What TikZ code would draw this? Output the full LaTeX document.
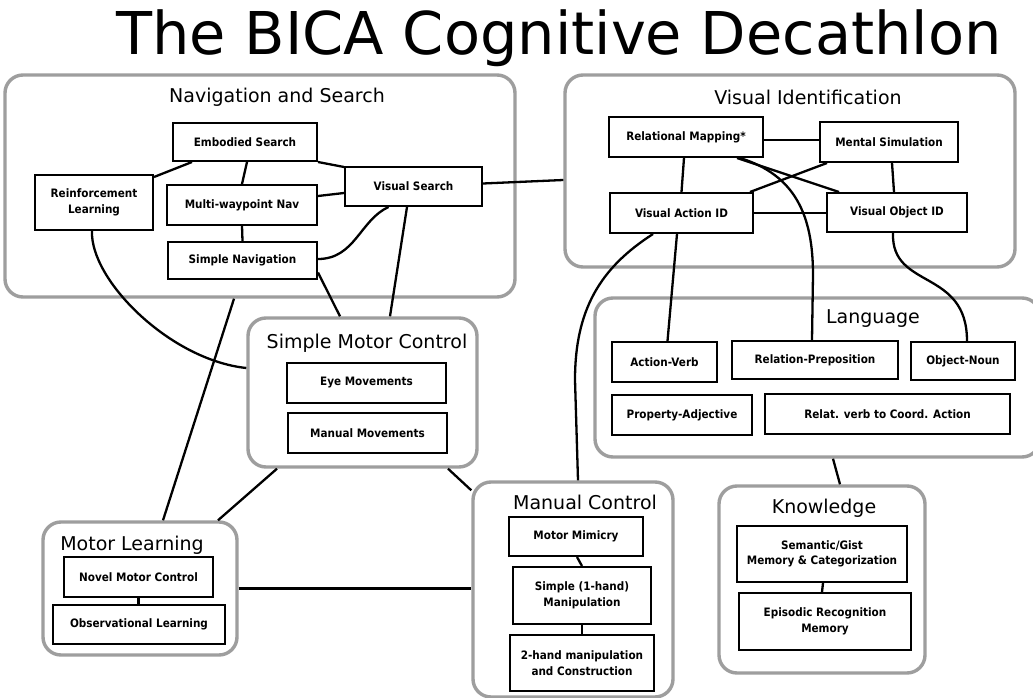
\documentclass[tikz,border=0pt]{standalone}
\usepackage{fontspec}
\setmainfont{DejaVu Sans}
\newfontfamily\boxfont[FakeStretch=0.9]{DejaVu Sans}
\tikzset{
  box/.style={draw, line width=2pt, inner sep=0pt, align=center,
    font=\boxfont\fontsize{11.6}{15.5}\selectfont\bfseries},
  grp/.style={draw=black!38, line width=3.4pt, rounded corners=18pt, inner sep=0pt},
  gtitle/.style={font=\fontsize{19}{22}\selectfont, inner sep=0pt},
  link/.style={line width=2.3pt},
}
\begin{document}
\begin{tikzpicture}[x=1pt,y=-1pt]
\fill[white] (0,0) rectangle (1033,698);
\useasboundingbox (0,0) rectangle (1033,698);
\node[font=\fontsize{59}{64}\selectfont, inner sep=0pt, anchor=base] (title) at (559,55) {The BICA Cognitive Decathlon};

% groups
\node[grp, minimum width=510, minimum height=222] (gnav) at (260,186) {};
\node[grp, minimum width=450, minimum height=192] (gvi) at (790,171) {};
\node[grp, minimum width=445, minimum height=159] (glang) at (817.5,377.5) {};
\node[grp, minimum width=229, minimum height=149] (gsmc) at (362.5,392.5) {};
\node[grp, minimum width=194, minimum height=133] (gml) at (140,588.5) {};
\node[grp, minimum width=200, minimum height=215] (gmc) at (573,589.5) {};
\node[grp, minimum width=206, minimum height=187] (gkn) at (822,579.5) {};

\node[gtitle] (tnav) at (277,97) {Navigation and Search};
\node[gtitle] (tvi) at (808,97) {Visual Identification};
\node[gtitle] (tlang) at (873,319) {Language};
\node[gtitle] (tsmc) at (367,343) {Simple Motor Control};
\node[gtitle] (tml) at (132,545) {Motor Learning};
\node[gtitle] (tmc) at (585,502) {Manual Control};
\node[gtitle] (tkn) at (824,508) {Knowledge};

% boxes
\node[box, minimum width=144, minimum height=38] (emb) at (245,142) {Embodied Search};
\node[box, minimum width=118, minimum height=55] (rl) at (94,202.5) {Reinforcement\\Learning};
\node[box, minimum width=150, minimum height=40] (mw) at (242,205) {Multi-waypoint Nav};
\node[box, minimum width=137, minimum height=39] (vs) at (413.5,186.5) {Visual Search};
\node[box, minimum width=149, minimum height=37] (sn) at (242.5,260.5) {Simple Navigation};

\node[box, minimum width=154, minimum height=40] (rm) at (686,137) {Relational Mapping*};
\node[box, minimum width=138, minimum height=40] (ms) at (889,142) {Mental Simulation};
\node[box, minimum width=143, minimum height=40] (va) at (681.5,213) {Visual Action ID};
\node[box, minimum width=140, minimum height=39] (vo) at (897,212.5) {Visual Object ID};

\node[box, minimum width=105, minimum height=40] (av) at (664.5,362) {Action-Verb};
\node[box, minimum width=166, minimum height=38] (rp) at (815,360) {Relation-Preposition};
\node[box, minimum width=104, minimum height=38] (on) at (963,361) {Object-Noun};
\node[box, minimum width=140, minimum height=40] (pa) at (682,415) {Property-Adjective};
\node[box, minimum width=245, minimum height=40] (rv) at (887.5,414) {Relat. verb to Coord. Action};

\node[box, minimum width=159, minimum height=40] (eye) at (366.5,383) {Eye Movements};
\node[box, minimum width=159, minimum height=40] (man) at (367.5,433) {Manual Movements};

\node[box, minimum width=149, minimum height=40] (nmc) at (138.5,577) {Novel Motor Control};
\node[box, minimum width=172, minimum height=39] (obs) at (139,624.5) {Observational Learning};

\node[box, minimum width=134, minimum height=39] (mm) at (576,536.5) {Motor Mimicry};
\node[box, minimum width=138, minimum height=57] (smp) at (582,595.5) {Simple (1-hand)\\Manipulation};
\node[box, minimum width=144, minimum height=56] (two) at (582,663) {2-hand manipulation\\and Construction};

\node[box, minimum width=170, minimum height=56] (sem) at (822,554) {Semantic/Gist\\Memory \& Categorization};
\node[box, minimum width=172, minimum height=57] (epi) at (825,621.5) {Episodic Recognition\\Memory};

% connectors: navigation
\draw[link] ([xshift=20pt]emb.south west) -- ([yshift=-3pt]rl.north east);
\draw[link] ([xshift=2pt]emb.south) -- (mw.north);
\draw[link] (emb.south east) -- ([yshift=-1pt]vs.north west);
\draw[link] ([yshift=9pt]mw.east) -- ([yshift=-6.5pt]vs.west);
\draw[link] (mw.south) -- (sn.north);
\draw[link] ([yshift=1.5pt]sn.east) .. controls (355,259) and (360,220) .. ([xshift=-25pt]vs.south);
\draw[link] ([xshift=-6.5pt]vs.south) -- ([xshift=27.5pt]gsmc.north);
\draw[link] ([yshift=-12pt]sn.east) -- ([xshift=-22.5pt]gsmc.north);
\draw[link] ([xshift=-2pt]rl.south) .. controls (90,280) and (170,360) .. ([yshift=24.5pt]gsmc.west);
\draw[link] ([xshift=-26pt]gnav.south) -- ([xshift=23pt]gml.north);
\draw[link] ([xshift=-85.5pt]gsmc.south) -- ([xshift=78pt]gml.north);
\draw[link] ([xshift=85.5pt]gsmc.south) -- ([yshift=-10pt]gmc.north west);
\draw[link] (gml.east) -- (gml.east -| gmc.west);
\draw[link] ([yshift=3pt]vs.east) -- ([yshift=-9pt]gvi.west);

% visual identification
\draw[link] ([yshift=-3pt]rm.east) -- ([yshift=2pt]ms.west);
\draw[link] ([xshift=-2pt]rm.south) -- (va.north);
\draw[link] ([xshift=-62pt]ms.south) -- ([xshift=-4pt]va.north east);
\draw[link] ([xshift=51pt]rm.south) -- ([xshift=13pt]vo.north west);
\draw[link] ([xshift=3pt]ms.south) -- ([xshift=-3pt]vo.north);
\draw[link] (va.east) -- (va.east -| vo.west);
\draw[link] ([xshift=54pt]rm.south) .. controls (795,175) and (813,215) .. (813,275) -- ([xshift=-3pt]rp.north);
\draw[link] ([xshift=-4.5pt]va.south) -- ([xshift=3pt]av.north);
\draw[link] ([xshift=-28.5pt]va.south) .. controls (600,268) and (575,310) .. (575,380) -- ([xshift=5pt]gmc.north);
\draw[link] ([xshift=-4pt]vo.south) .. controls (891,290) and (967,268) .. ([xshift=4pt]on.north);
\draw[link] ([xshift=15.5pt]glang.south) -- ([xshift=18pt]gkn.north);

% internal chains
\draw[link] ([xshift=1pt]mm.south) -- (smp.north);
\draw[link] (smp.south) -- (two.north);
\draw[link] ([xshift=1pt]sem.south) -- (sem.south |- epi.north);
\draw[link] (nmc.south) -- (nmc.south |- obs.north);
\end{tikzpicture}
\end{document}
